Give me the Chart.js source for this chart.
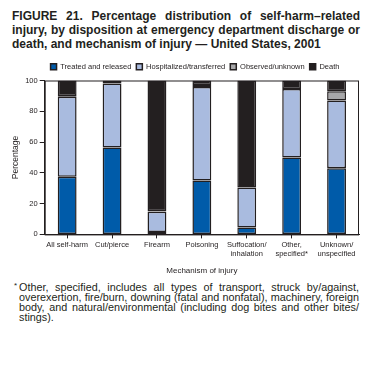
<!DOCTYPE html>
<html>
<head>
<meta charset="utf-8">
<script src="https://cdn.jsdelivr.net/npm/chart.js@4.4.0/dist/chart.umd.min.js"></script>
<style>
    body { margin: 0; background: #fff; font-family: 'Liberation Sans', Arial, sans-serif; color: #231f20; }
    #page { position: relative; width: 376px; height: 365px; overflow: hidden; }
    #title { position: absolute; left: 12px; top: 10px; width: 348px; font-weight: bold; font-size: 12px; line-height: 13.8px; }
    #note { position: absolute; left: 19px; top: 282px; width: 340px; font-size: 10.8px; line-height: 10px; }
    .j { text-align: justify; text-align-last: justify; white-space: nowrap; }
    #star { position: absolute; left: 14px; top: 281px; font-size: 8px; }
    #chartBox { position: absolute; left: 0; top: 55px; }
</style>
</head>
<body>
<div id="page">
    <div id="title">
        <div class="j">FIGURE 21. Percentage distribution of self-harm–related</div>
        <div class="j">injury, by disposition at emergency department discharge or</div>
        <div>death, and mechanism of injury — United States, 2001</div>
    </div>
    <div id="chartBox"><canvas id="dispChart" width="376" height="225"></canvas></div>
    <div id="star">*</div>
    <div id="note">
        <div class="j">Other, specified, includes all types of transport, struck by/against,</div>
        <div class="j">overexertion, fire/burn, downing (fatal and nonfatal), machinery, foreign</div>
        <div class="j">body, and natural/environmental (including dog bites and other bites/</div>
        <div>stings).</div>
    </div>
</div>
<script>
// categories and series (percent)
const mechanisms = [
    'All self-harm', 'Cut/pierce', 'Firearm', 'Poisoning',
    ['Suffocation/', 'inhalation'], ['Other,', 'specified*'], ['Unknown/', 'unspecified']
];
const treated      = [37.5, 56.5,  1.5, 35.0,  4.5, 50.0, 43.0];
const hospitalized = [52.0, 41.5, 13.2, 60.8, 26.0, 44.5, 44.0];
const observed     = [ 0.5,  0.0,  0.3,  1.2,  0.0,  0.0,  6.0];
const death        = [10.0,  2.0, 85.0,  3.0, 69.5,  5.5,  7.0];
const yTicks = [0, 20, 40, 60, 80, 100];

const ink = '#231f20';
const font = "'Liberation Sans', Arial, sans-serif";

// top and right frame lines around the plot area; legend nudged over the plot
const frame = {
    id: 'frame',
    afterLayout(chart) {
        chart.legend.left += 11;
        chart.legend.right += 11;
    },
    afterDraw(chart) {
        const { ctx, chartArea: a } = chart;
        ctx.save();
        ctx.strokeStyle = ink;
        ctx.lineWidth = 1;
        ctx.strokeRect(a.left + 0.5, a.top + 0.5, a.right - a.left - 1, a.bottom - a.top);
        ctx.restore();
    }
};

function series(label, data, color) {
    return {
        label, data,
        backgroundColor: color,
        borderColor: ink,
        borderWidth: 1.5,
        borderSkipped: false,
        barPercentage: 0.42,
        categoryPercentage: 1
    };
}

new Chart(document.getElementById('dispChart'), {
    type: 'bar',
    data: {
        labels: mechanisms,
        datasets: [
            series('Treated and released', treated, '#005ba9'),
            series('Hospitalized/transferred', hospitalized, '#a9bbdf'),
            series('Observed/unknown', observed, '#a7a7a9'),
            series('Death', death, ink)
        ]
    },
    options: {
        responsive: false,
        animation: false,
        layout: { padding: { left: 9, right: 17, top: 3, bottom: 0 } },
        plugins: {
            tooltip: { enabled: false },
            legend: {
                position: 'top',
                labels: {
                    color: ink,
                    font: { family: font, size: 7.5 },
                    boxWidth: 6, boxHeight: 6,
                    padding: 5
                }
            }
        },
        scales: {
            x: {
                stacked: true,
                grid: { offset: false, drawOnChartArea: false, tickLength: 4, color: ink },
                border: { color: ink },
                ticks: { color: ink, font: { family: font, size: 7.5 }, maxRotation: 0, autoSkip: false, padding: 2 },
                title: { display: true, text: 'Mechanism of injury', color: ink, font: { family: font, size: 8 }, padding: { top: 6 } }
            },
            y: {
                stacked: true,
                min: 0, max: 100,
                afterBuildTicks: axis => { axis.ticks = yTicks.map(v => ({ value: v })); },
                grid: { drawOnChartArea: false, tickLength: 5, color: ink },
                border: { color: ink },
                ticks: { color: ink, font: { family: font, size: 7.5 }, padding: 2 },
                title: { display: true, text: 'Percentage', color: ink, font: { family: font, size: 8.5 }, padding: 2 }
            }
        }
    },
    plugins: [frame]
});
</script>
</body>
</html>
